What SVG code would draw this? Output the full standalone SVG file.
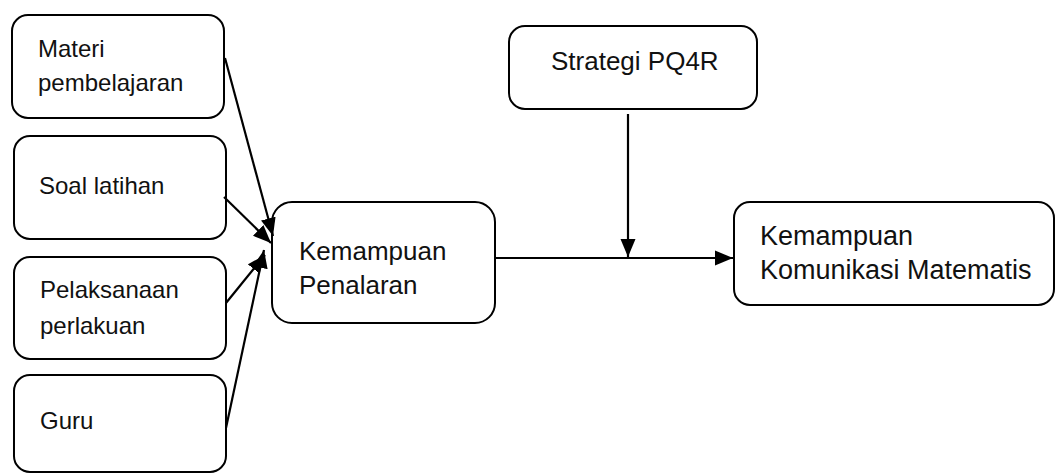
<svg xmlns="http://www.w3.org/2000/svg" width="1056" height="474" viewBox="0 0 1056 474">
<style>
.box{fill:#fff;stroke:#000;stroke-width:2}
.t{font-family:"Liberation Sans",Arial,sans-serif;fill:#111}
.s{font-size:24px}
.m{font-size:26px}
.l{font-size:27px}
.c{stroke:#000;stroke-width:2.2;fill:none}
</style>
<defs>
<marker id="ah" markerUnits="userSpaceOnUse" markerWidth="19" markerHeight="16" refX="18" refY="8" orient="auto">
<path d="M0,0.5 L18,8 L0,15.5 Z" fill="#000"/>
</marker>
</defs>
<rect width="1056" height="474" fill="#fff"/>
<g id="n-materi">
<rect class="box" x="12" y="15" width="212" height="103" rx="16"/>
<text class="t s" x="38" y="57">Materi</text>
<text class="t s" x="38" y="91">pembelajaran</text>
</g>
<g id="n-soal">
<rect class="box" x="14" y="136" width="212" height="103" rx="16"/>
<text class="t s" x="39" y="194">Soal latihan</text>
</g>
<g id="n-pelaksanaan">
<rect class="box" x="14" y="257" width="212" height="102" rx="16"/>
<text class="t s" x="40" y="298">Pelaksanaan</text>
<text class="t s" x="40" y="334">perlakuan</text>
</g>
<g id="n-guru">
<rect class="box" x="14" y="375" width="212" height="97" rx="16"/>
<text class="t s" x="40" y="429">Guru</text>
</g>
<g id="n-penalaran">
<rect class="box" x="272" y="202" width="223" height="121" rx="20"/>
<text class="t m" x="299" y="260">Kemampuan</text>
<text class="t m" x="299" y="294">Penalaran</text>
</g>
<g id="n-strategi">
<rect class="box" x="509" y="26" width="248" height="83" rx="16"/>
<text class="t m" x="551" y="70">Strategi PQ4R</text>
</g>
<g id="n-komunikasi">
<rect class="box" x="734" y="202" width="320" height="103" rx="16"/>
<text class="t l" x="760" y="245">Kemampuan</text>
<text class="t l" x="760" y="279">Komunikasi Matematis</text>
</g>
<g id="connectors">
<line class="c" x1="225" y1="58" x2="273" y2="236" marker-end="url(#ah)"/>
<line class="c" x1="224" y1="197" x2="271" y2="243" marker-end="url(#ah)"/>
<line class="c" x1="226" y1="303" x2="265" y2="255" marker-end="url(#ah)"/>
<line class="c" x1="226" y1="428" x2="264" y2="250" marker-end="url(#ah)"/>
<line class="c" x1="495" y1="258" x2="733" y2="258" marker-end="url(#ah)"/>
<line class="c" x1="628" y1="114" x2="628" y2="257" marker-end="url(#ah)"/>
</g>
</svg>
